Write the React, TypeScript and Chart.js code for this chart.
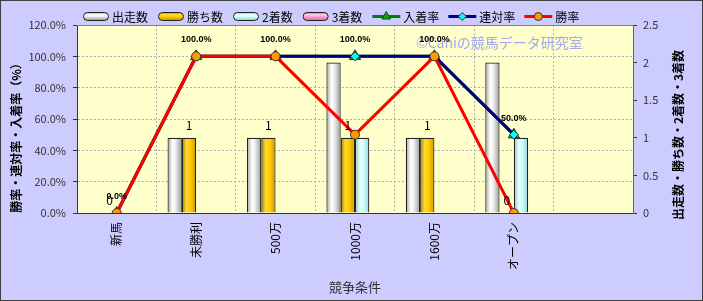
import React, { useEffect, useRef } from 'react';
import { Chart, registerables } from 'chart.js';

Chart.register(...registerables);

// ---- data ----
const categories = ['新馬', '未勝利', '500万', '1000万', '1600万', 'オープン', ''];
const starts = [0, 1, 1, 2, 1, 2, null];
const wins = [0, 1, 1, 1, 1, 0, null];
const seconds = [0, 0, 0, 1, 0, 1, null];
const thirds = [0, 0, 0, 0, 0, 0, null];
const placeRate = [0, 100, 100, 100, 100, 50, null];
const quinellaRate = [0, 100, 100, 100, 100, 50, null];
const winRate = [0, 100, 100, 50, 100, 0, null];

const leftTicks = { min: 0, max: 120, step: 20 };
const rightTicks = { min: 0, max: 2.5, step: 0.5 };

const seriesNames = ['出走数', '勝ち数', '2着数', '3着数', '入着率', '連対率', '勝率'];
const xTitle = '競争条件';
const leftTitle = '勝率・連対率・入着率（%）';
const rightTitle = '出走数・勝ち数・2着数・3着数';
const watermark = '©Caniの競馬データ研究室';

// ---- styles ----
const JP = '"Noto Sans CJK JP", "Noto Sans", sans-serif';
const CAT_PCT = 0.72;

type Stops = [number, string][];
const barStops: Stops[] = [
  [[0, '#a0a0a0'], [0.35, '#ffffff'], [0.55, '#f0f0f0'], [1, '#9a9a9a']],
  [[0, '#a07800'], [0.3, '#ffd633'], [0.6, '#ffcc00'], [1, '#c99700']],
  [[0, '#88c4c4'], [0.35, '#e8ffff'], [0.6, '#ccffff'], [1, '#98d0d0']],
  [[0, '#c06090'], [0.35, '#ffd0ee'], [0.6, '#ff99cc'], [1, '#d07aa6']],
];

const lineStyles = [
  { color: '#008000', marker: 'triangle', fill: '#00b000', r: 6.5 },
  { color: '#000080', marker: 'rectRot', fill: '#00ffff', r: 4.5 },
  { color: '#ff0000', marker: 'circle', fill: '#ff9900', r: 4.5 },
];

function barGradient(idx: number) {
  const stops = barStops[idx];
  return (c: any) => {
    const chart = c.chart;
    const xs = chart.scales && chart.scales.x;
    if (!xs || !chart.chartArea || c.dataIndex == null) return stops[2][1];
    const n = chart.data.labels.length;
    const cat = xs.width / n;
    const groupW = cat * CAT_PCT;
    const w = groupW / 4;
    const center = xs.getPixelForValue(c.dataIndex);
    const left = center - groupW / 2 + w * idx;
    const g = chart.ctx.createLinearGradient(left, 0, left + w, 0);
    stops.forEach(([o, col]) => g.addColorStop(o, col));
    return g;
  };
}

function drawMarker(ctx: CanvasRenderingContext2D, style: string, x: number, y: number, r: number, fill: string) {
  ctx.beginPath();
  if (style === 'circle') {
    ctx.arc(x, y, r, 0, Math.PI * 2);
  } else if (style === 'rectRot') {
    ctx.moveTo(x, y - r); ctx.lineTo(x + r, y); ctx.lineTo(x, y + r); ctx.lineTo(x - r, y); ctx.closePath();
  } else {
    let rad = 0;
    ctx.moveTo(x + Math.sin(rad) * r, y - Math.cos(rad) * r);
    rad += (2 * Math.PI) / 3;
    ctx.lineTo(x + Math.sin(rad) * r, y - Math.cos(rad) * r);
    rad += (2 * Math.PI) / 3;
    ctx.lineTo(x + Math.sin(rad) * r, y - Math.cos(rad) * r);
    ctx.closePath();
  }
  ctx.fillStyle = fill; ctx.fill();
  ctx.lineWidth = 1; ctx.strokeStyle = '#333'; ctx.stroke();
}

const decor = {
  id: 'decor',
  beforeDraw(chart: any) {
    const { ctx, width, height, chartArea: a } = chart;
    ctx.save();
    ctx.fillStyle = '#ccccff';
    ctx.fillRect(0, 0, width, height);
    ctx.strokeStyle = '#404040';
    ctx.lineWidth = 1;
    ctx.strokeRect(0.5, 0.5, width - 1, height - 1);
    ctx.fillStyle = '#ffffcc';
    ctx.fillRect(a.left, a.top, a.right - a.left, a.bottom - a.top);
    ctx.restore();
  },
  beforeDatasetsDraw(chart: any) {
    const { ctx, chartArea: a } = chart;
    ctx.save();
    ctx.strokeStyle = '#808080';
    ctx.lineWidth = 1;
    ctx.beginPath();
    ctx.moveTo(a.left, Math.round(a.top) + 0.5);
    ctx.lineTo(a.right, Math.round(a.top) + 0.5);
    ctx.stroke();
    ctx.font = `14px ${JP}`;
    ctx.fillStyle = '#a4a8f0';
    ctx.textBaseline = 'middle';
    ctx.textAlign = 'left';
    ctx.fillText(watermark, 416, 43);
    ctx.restore();
  },
  afterDatasetsDraw(chart: any) {
    const { ctx } = chart;
    ctx.save();
    ctx.fillStyle = '#000';
    ctx.textAlign = 'center';
    ctx.textBaseline = 'middle';
    // values of 勝ち数
    ctx.font = `12px ${JP}`;
    chart.getDatasetMeta(1).data.forEach((el: any, i: number) => {
      const v = wins[i];
      if (v == null) return;
      ctx.fillText(String(v), el.x, el.y - 12.5);
    });
    // percentages of 入着率
    ctx.font = 'bold 9px "Liberation Sans", Arial, sans-serif';
    chart.getDatasetMeta(4).data.forEach((el: any, i: number) => {
      const v = placeRate[i];
      if (v == null) return;
      ctx.fillText(v.toFixed(1) + '%', el.x, el.y - 16.5);
    });
    ctx.restore();
  },
  afterDraw(chart: any) {
    const { ctx } = chart;
    ctx.save();
    // legend
    ctx.font = `12px ${JP}`;
    ctx.textBaseline = 'middle';
    ctx.textAlign = 'left';
    let x = 83;
    const y = 16;
    seriesNames.forEach((name, i) => {
      if (i < 4) {
        const g = ctx.createLinearGradient(0, y - 4, 0, y + 4);
        barStops[i].forEach(([o, col]) => g.addColorStop(o, col));
        ctx.beginPath();
        ctx.roundRect(x + 0.5, y - 4 + 0.5, 25, 8, 4);
        ctx.fillStyle = g;
        ctx.fill();
        ctx.strokeStyle = '#222';
        ctx.lineWidth = 1;
        ctx.stroke();
        ctx.fillStyle = '#000';
        ctx.fillText(name, x + 29, y + 1);
        x += 29 + ctx.measureText(name).width + 10;
      } else {
        const s = lineStyles[i - 4];
        ctx.beginPath();
        ctx.moveTo(x, y + 0.5);
        ctx.lineTo(x + 28, y + 0.5);
        ctx.strokeStyle = s.color;
        ctx.lineWidth = 3;
        ctx.stroke();
        drawMarker(ctx, s.marker, x + 14, y + 0.5, i === 4 ? 5 : 4, s.fill);
        ctx.fillStyle = '#000';
        ctx.fillText(name, x + 31, y + 1);
        x += 31 + ctx.measureText(name).width + 9;
      }
    });
    // axis titles (both read bottom-to-top)
    ctx.font = `bold 12px ${JP}`;
    ctx.textAlign = 'center';
    ctx.fillStyle = '#000';
    [[16, 135, leftTitle], [678, 135, rightTitle]].forEach(([tx, ty, text]) => {
      ctx.save();
      ctx.translate(tx as number, ty as number);
      ctx.rotate(-Math.PI / 2);
      ctx.fillText(text as string, 0, 0);
      ctx.restore();
    });
    ctx.restore();
  },
};

function makeConfig(): any {
  const barData = [starts, wins, seconds, thirds];
  const lineData = [placeRate, quinellaRate, winRate];
  const datasets: any[] = [];
  barData.forEach((d, i) => {
    datasets.push({
      type: 'bar',
      label: seriesNames[i],
      data: d,
      yAxisID: 'y1',
      order: 10,
      backgroundColor: barGradient(i),
      borderColor: '#222',
      borderWidth: (c: any) => (c.raw ? 1.2 : 0),
      categoryPercentage: CAT_PCT,
      barPercentage: 1,
    });
  });
  lineData.forEach((d, i) => {
    const s = lineStyles[i];
    datasets.push({
      type: 'line',
      label: seriesNames[4 + i],
      data: d,
      yAxisID: 'y',
      order: 3 - i,
      borderColor: s.color,
      backgroundColor: s.fill,
      borderWidth: 3,
      tension: 0,
      pointStyle: s.marker,
      pointRadius: s.r,
      pointBackgroundColor: s.fill,
      pointBorderColor: '#333',
      pointBorderWidth: 1,
    });
  });
  return {
    type: 'bar',
    data: { labels: categories, datasets },
    plugins: [decor],
    options: {
      responsive: false,
      animation: false,
      events: [],
      layout: { padding: { top: 25, left: 0, right: 0, bottom: 0 } },
      plugins: { legend: { display: false }, tooltip: { enabled: false } },
      scales: {
        x: {
          type: 'category',
          offset: true,
          grid: { display: true, offset: true, color: '#b0b0b0', drawTicks: false },
          border: { display: true, color: '#333333', dash: [2, 2] },
          ticks: {
            autoSkip: false,
            maxRotation: 90,
            minRotation: 90,
            padding: 9,
            color: '#000',
            font: { size: 12, family: JP },
          },
          title: {
            display: true,
            text: xTitle,
            color: '#333',
            font: { size: 13, family: JP },
            padding: { top: 0, bottom: 6 },
          },
          afterFit: (s: any) => { s.height = 88; },
        },
        y: {
          type: 'linear',
          position: 'left',
          min: leftTicks.min,
          max: leftTicks.max,
          grid: { color: '#b0b0b0', drawTicks: true, tickLength: 4, tickColor: '#333', tickBorderDash: [] },
          border: { display: true, color: '#333333', dash: [2, 2] },
          ticks: {
            stepSize: leftTicks.step,
            padding: 7,
            color: '#333',
            font: { size: 11, family: JP },
            callback: (v: any) => Number(v).toFixed(1) + '%',
          },
          afterFit: (s: any) => { s.width = 77; },
        },
        y1: {
          type: 'linear',
          position: 'right',
          min: rightTicks.min,
          max: rightTicks.max,
          grid: { drawOnChartArea: false, drawTicks: true, tickLength: 4, tickColor: '#333' },
          border: { display: true, color: '#666666' },
          ticks: {
            stepSize: rightTicks.step,
            padding: 6,
            color: '#333',
            font: { size: 11, family: JP },
            callback: (v: any) => String(Number(v)),
          },
          afterFit: (s: any) => { s.width = 70; },
        },
      },
    },
  };
}

export default function App() {
  const ref = useRef<HTMLCanvasElement>(null);
  useEffect(() => {
    document.body.style.margin = '0';
    const chart = new Chart(ref.current as HTMLCanvasElement, makeConfig());
    return () => chart.destroy();
  }, []);
  return (
    <canvas
      ref={ref}
      width={703}
      height={301}
      style={{ display: 'block', width: 703, height: 301 }}
    />
  );
}
